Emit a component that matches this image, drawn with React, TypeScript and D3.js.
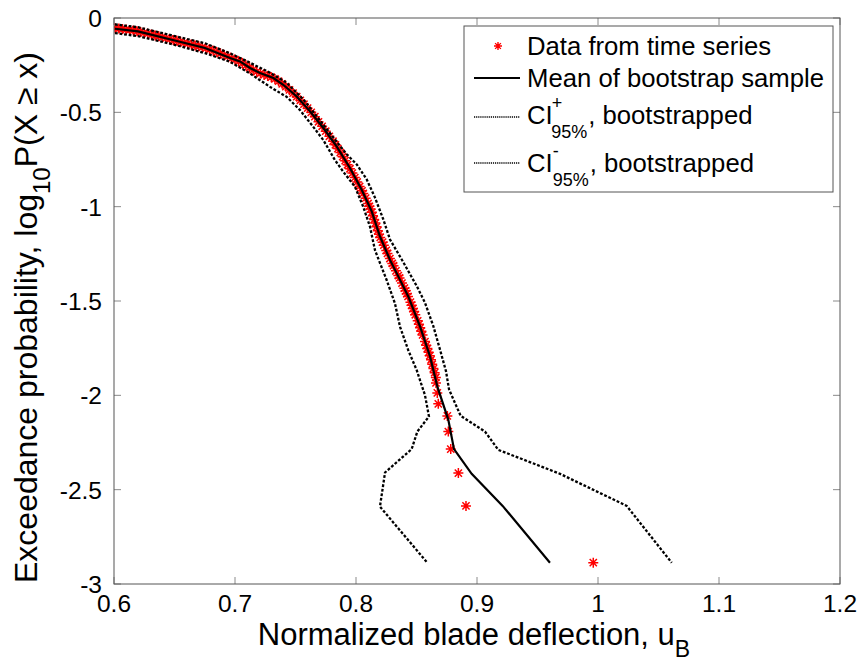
import React from 'react';
import * as d3 from 'd3';

// ---------- data ----------
const dataX = [
  0.601, 0.604, 0.607, 0.610, 0.613, 0.616, 0.619, 0.622, 0.625, 0.628,
  0.631, 0.634, 0.637, 0.640, 0.643, 0.646, 0.649, 0.652, 0.655, 0.658,
  0.661, 0.664, 0.667, 0.670, 0.673, 0.676, 0.679, 0.682, 0.685, 0.688,
  0.691, 0.694, 0.697, 0.700, 0.703, 0.706, 0.709, 0.712, 0.715, 0.718,
  0.721, 0.724, 0.727, 0.730, 0.733, 0.736, 0.739, 0.742, 0.745, 0.748,
  0.751, 0.754, 0.757, 0.760, 0.763, 0.766, 0.769, 0.772, 0.775, 0.778,
  0.781, 0.783, 0.785, 0.787, 0.789, 0.791, 0.793, 0.795, 0.797, 0.799,
  0.801, 0.803, 0.805, 0.806, 0.808, 0.810, 0.811, 0.812, 0.813, 0.814,
  0.815, 0.816, 0.817, 0.818, 0.819, 0.820, 0.822, 0.823, 0.825, 0.826,
  0.828, 0.830, 0.831, 0.833, 0.835, 0.836, 0.838, 0.840, 0.841, 0.842,
  0.843, 0.845, 0.846, 0.847, 0.848, 0.849, 0.851, 0.852, 0.853, 0.854,
  0.855, 0.857, 0.858, 0.859, 0.860, 0.861, 0.862, 0.863, 0.864, 0.865, 0.866,
  0.8661, 0.8672, 0.868, 0.8755, 0.8763, 0.8783, 0.8846, 0.8909, 0.9961,
];
const dataY = [
  -0.054, -0.056, -0.058, -0.061, -0.063, -0.066, -0.070, -0.074, -0.078, -0.083,
  -0.088, -0.093, -0.097, -0.102, -0.107, -0.112, -0.117, -0.121, -0.126, -0.131,
  -0.136, -0.141, -0.146, -0.150, -0.155, -0.161, -0.167, -0.174, -0.181, -0.188,
  -0.196, -0.204, -0.214, -0.221, -0.230, -0.239, -0.251, -0.263, -0.275, -0.285,
  -0.293, -0.301, -0.307, -0.314, -0.323, -0.335, -0.349, -0.364, -0.381, -0.398,
  -0.417, -0.436, -0.457, -0.478, -0.500, -0.523, -0.550, -0.574, -0.600, -0.627,
  -0.653, -0.672, -0.692, -0.713, -0.735, -0.756, -0.778, -0.799, -0.822, -0.846,
  -0.869, -0.893, -0.916, -0.930, -0.955, -0.983, -0.998, -1.013, -1.030, -1.048,
  -1.068, -1.087, -1.107, -1.127, -1.146, -1.163, -1.188, -1.204, -1.232, -1.248,
  -1.275, -1.301, -1.313, -1.340, -1.365, -1.378, -1.405, -1.432, -1.446, -1.461,
  -1.476, -1.506, -1.522, -1.540, -1.556, -1.573, -1.605, -1.623, -1.642, -1.660,
  -1.680, -1.715, -1.735, -1.752, -1.772, -1.790, -1.812, -1.835, -1.858, -1.880, -1.905,
  -1.934, -1.987, -2.045, -2.109, -2.192, -2.285, -2.412, -2.586, -2.887,
];

const meanX = [
  0.6008, 0.6198, 0.6477, 0.6752, 0.6959, 0.7041, 0.7124, 0.7207, 0.7317, 0.7399,
  0.751, 0.762, 0.773, 0.784, 0.795, 0.8047, 0.813, 0.8198, 0.8281, 0.8364,
  0.8432, 0.8529, 0.8612, 0.8672, 0.8763, 0.881, 0.8956, 0.9212, 0.9603,
];
const meanY = [
  -0.057, -0.071, -0.115, -0.159, -0.212, -0.23, -0.265, -0.292, -0.318, -0.354,
  -0.416, -0.495, -0.583, -0.681, -0.795, -0.91, -1.025, -1.158, -1.282, -1.388,
  -1.476, -1.635, -1.794, -1.953, -2.13, -2.285, -2.416, -2.586, -2.887,
];

const ciPlusX = [
  0.6008, 0.6198, 0.6477, 0.6752, 0.6959, 0.7124, 0.7289, 0.7427, 0.7564, 0.7675,
  0.7843, 0.7923, 0.8006, 0.8088, 0.8157, 0.8226, 0.8281, 0.8378, 0.8502, 0.857,
  0.8639, 0.8694, 0.8744, 0.8769, 0.8865, 0.9066, 0.9176, 0.9686, 1.0237, 1.0609,
];
const ciPlusY = [
  -0.034, -0.049, -0.092, -0.134, -0.187, -0.237, -0.29, -0.343, -0.431, -0.52,
  -0.658, -0.722, -0.776, -0.855, -0.952, -1.068, -1.174, -1.28, -1.421, -1.509,
  -1.633, -1.757, -1.873, -1.969, -2.109, -2.192, -2.289, -2.416, -2.586, -2.887,
];

const ciMinusX = [
  0.6008, 0.6198, 0.6477, 0.6752, 0.6959, 0.7124, 0.7289, 0.7427, 0.7537, 0.7647,
  0.773, 0.7826, 0.7895, 0.7992, 0.806, 0.8116, 0.8157, 0.8254, 0.8322, 0.8364,
  0.8432, 0.8502, 0.8529, 0.857, 0.8603, 0.8507, 0.846, 0.824, 0.8198, 0.8589,
];
const ciMinusY = [
  -0.08, -0.096, -0.138, -0.186, -0.232, -0.294, -0.365, -0.418, -0.488, -0.577,
  -0.647, -0.753, -0.815, -0.895, -1.001, -1.107, -1.231, -1.39, -1.513, -1.637,
  -1.761, -1.867, -1.92, -1.999, -2.112, -2.192, -2.285, -2.409, -2.59, -2.887,
];

const xTicks = [0.6, 0.7, 0.8, 0.9, 1.0, 1.1, 1.2];
const xTickLabels = ['0.6', '0.7', '0.8', '0.9', '1', '1.1', '1.2'];
const yTicks = [0, -0.5, -1, -1.5, -2, -2.5, -3];
const yTickLabels = ['0', '-0.5', '-1', '-1.5', '-2', '-2.5', '-3'];

// ---------- layout ----------
const W = 862;
const H = 663;
const L = 114, R = 840, T = 18, B = 584;
const FONT = "'Liberation Sans', Arial, Helvetica, sans-serif";
const AX = '#555555';
const TICK = '#8a8a8a';

type P = [number, number];
const zip = (xs: number[], ys: number[]): P[] => xs.map((x, i) => [x, ys[i]]);

function Asterisk({ x, y, r, color, w }: { x: number; y: number; r: number; color: string; w: number }) {
  const d = r * 0.72;
  return (
    <path
      d={`M${x - r},${y}L${x + r},${y}M${x},${y - r}L${x},${y + r}M${x - d},${y - d}L${x + d},${y + d}M${x - d},${y + d}L${x + d},${y - d}`}
      stroke={color}
      strokeWidth={w}
      fill="none"
    />
  );
}

export default function App() {
  const xs = d3.scaleLinear().domain([0.6, 1.2]).range([L, R]);
  const ys = d3.scaleLinear().domain([-3, 0]).range([B, T]);
  const line = d3
    .line<P>()
    .x((d) => xs(d[0]))
    .y((d) => ys(d[1]));

  const data = zip(dataX, dataY);
  const mean = zip(meanX, meanY);
  const ciP = zip(ciPlusX, ciPlusY);
  const ciM = zip(ciMinusX, ciMinusY);

  const tickLen = 7;
  const lx = 464, ly = 26, lw = 369, lh = 166;

  return (
    <svg
      width={W}
      height={H}
      viewBox={`0 0 ${W} ${H}`}
      style={{ position: 'absolute', left: 0, top: 0, display: 'block', background: '#fff' }}
      fontFamily={FONT}
    >
      <rect x={0} y={0} width={W} height={H} fill="#fff" />
      <defs>
        <clipPath id="plotclip">
          <rect x={L} y={T - 6} width={R - L} height={B - T + 6} />
        </clipPath>
      </defs>

      {/* ticks */}
      {xTicks.map((t, i) => (
        <g key={'xt' + i}>
          <line x1={xs(t)} x2={xs(t)} y1={B} y2={B - tickLen} stroke={TICK} strokeWidth={1} />
          <line x1={xs(t)} x2={xs(t)} y1={T} y2={T + tickLen} stroke={TICK} strokeWidth={1} />
          <text x={xs(t)} y={B + 28} fontSize={24.5} textAnchor="middle" fill="#000">
            {xTickLabels[i]}
          </text>
        </g>
      ))}
      {yTicks.map((t, i) => (
        <g key={'yt' + i}>
          <line x1={L} x2={L + tickLen} y1={ys(t)} y2={ys(t)} stroke={TICK} strokeWidth={1} />
          <line x1={R} x2={R - tickLen} y1={ys(t)} y2={ys(t)} stroke={TICK} strokeWidth={1} />
          <text x={L - 12} y={ys(t) + 9} fontSize={24.5} textAnchor="end" fill="#000">
            {yTickLabels[i]}
          </text>
        </g>
      ))}

      {/* series */}
      <g clipPath="url(#plotclip)">
        {data.map((d, i) => (
          <Asterisk key={'d' + i} x={xs(d[0])} y={ys(d[1])} r={5} color="#ff0000" w={1.5} />
        ))}
        <path d={line(mean) || ''} fill="none" stroke="#000" strokeWidth={2.2} />
        <path d={line(ciP) || ''} fill="none" stroke="#000" strokeWidth={2.3} strokeDasharray="2.8,1.8" />
        <path d={line(ciM) || ''} fill="none" stroke="#000" strokeWidth={2.3} strokeDasharray="2.8,1.8" />
      </g>

      {/* frame */}
      <rect x={L} y={T} width={R - L} height={B - T} fill="none" stroke={AX} strokeWidth={1} />

      {/* legend */}
      <rect x={lx} y={ly} width={lw} height={lh} fill="#fff" stroke={AX} strokeWidth={1} />
      <Asterisk x={498} y={46} r={4} color="#ff0000" w={1.4} />
      <text x={527} y={55} fontSize={25.7} fill="#000">Data from time series</text>
      <line x1={474} x2={520} y1={78} y2={78} stroke="#000" strokeWidth={2} />
      <text x={527} y={87} fontSize={25.7} fill="#000">Mean of bootstrap sample</text>
      <line x1={474} x2={520} y1={117} y2={117} stroke="#000" strokeWidth={1.4} strokeDasharray="1.2,0.9" />
      <text x={527} y={124} fontSize={25.7} fill="#000">
        CI
        <tspan dx={-1} dy={-15} fontSize={18}>+</tspan>
        <tspan dx={-11} dy={29} fontSize={18}>95%</tspan>
        <tspan dx={1} dy={-14}>, bootstrapped</tspan>
      </text>
      <line x1={474} x2={520} y1={163} y2={163} stroke="#000" strokeWidth={1.4} strokeDasharray="1.2,0.9" />
      <text x={527} y={172} fontSize={25.7} fill="#000">
        CI
        <tspan dx={0} dy={-15} fontSize={18}>-</tspan>
        <tspan dx={-6} dy={29} fontSize={18}>95%</tspan>
        <tspan dx={1} dy={-14}>, bootstrapped</tspan>
      </text>

      {/* axis titles */}
      <text x={(L + R) / 2 - 3} y={645} fontSize={31} textAnchor="middle" fill="#000">
        Normalized blade deflection, u<tspan dy={12} fontSize={23}>B</tspan>
      </text>
      <text transform={`translate(37, 583) rotate(-90)`} fontSize={32} textAnchor="start" fill="#000">
        Exceedance probability, log<tspan dy={13} fontSize={24}>10</tspan>
        <tspan dy={-13}>P(X ≥ x)</tspan>
      </text>
    </svg>
  );
}
